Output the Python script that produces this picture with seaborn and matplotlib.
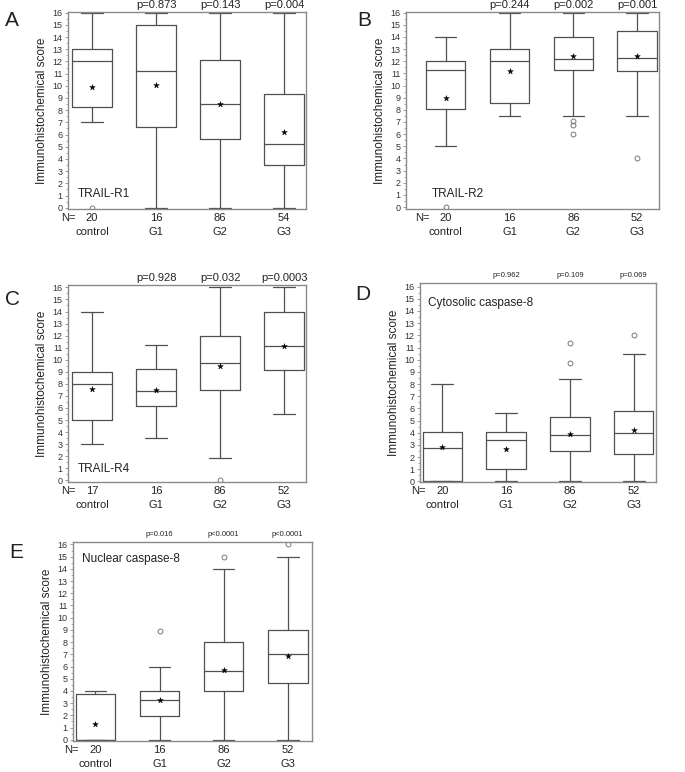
import matplotlib
matplotlib.use("Agg")
import matplotlib.pyplot as plt
import seaborn as sns
from matplotlib.ticker import MultipleLocator

sns.set_style("white")
plt.rcParams['font.family'] = ['Liberation Sans', 'DejaVu Sans']

groups = ['control', 'G1', 'G2', 'G3']

# A - TRAIL-R1
r1_n = [20, 16, 86, 54]
r1_p = ['', 'p=0.873', 'p=0.143', 'p=0.004']
r1_lo = [7, 0, 0, 0]
r1_q1 = [8.25, 6.6, 5.65, 3.5]
r1_med = [12, 11.2, 8.5, 5.25]
r1_q3 = [13, 15, 12.1, 9.35]
r1_hi = [16, 16, 16, 16]
r1_mean = [9.9, 10.05, 8.5, 6.25]
r1_out = [[0], [], [], []]

# B - TRAIL-R2
r2_n = [20, 16, 86, 52]
r2_p = ['', 'p=0.244', 'p=0.002', 'p=0.001']
r2_lo = [5, 7.5, 7.5, 7.5]
r2_q1 = [8.05, 8.6, 11.25, 11.2]
r2_med = [11.25, 12, 12.15, 12.25]
r2_q3 = [12, 13, 14, 14.5]
r2_hi = [14, 16, 16, 16]
r2_mean = [9.0, 11.2, 12.45, 12.4]
r2_out = [[0], [], [7.05, 6.75, 6.0], [4.0]]

# C - TRAIL-R4
r4_n = [17, 16, 86, 52]
r4_p = ['', 'p=0.928', 'p=0.032', 'p=0.0003']
r4_lo = [3, 3.5, 1.85, 5.5]
r4_q1 = [5, 6.2, 7.5, 9.15]
r4_med = [8, 7.4, 9.7, 11.1]
r4_q3 = [9, 9.2, 12, 14]
r4_hi = [14, 11.25, 16, 16]
r4_mean = [7.6, 7.45, 9.5, 11.15]
r4_out = [[], [], [0], []]

# D - cytosolic caspase-8
cc_n = [20, 16, 86, 52]
cc_p = ['', 'p=0.962', 'p=0.109', 'p=0.069']
cc_lo = [0, 0, 0, 0]
cc_q1 = [0, 1.0, 2.5, 2.28]
cc_med = [2.75, 3.4, 3.78, 4.0]
cc_q3 = [4.04, 4.05, 5.25, 5.75]
cc_hi = [8, 5.65, 8.4, 10.5]
cc_mean = [2.83, 2.7, 3.93, 4.26]
cc_out = [[], [], [9.7, 11.4], [12.0]]

# E - nuclear caspase-8
nc_n = [20, 16, 86, 52]
nc_p = ['', 'p=0.016', 'p<0.0001', 'p<0.0001']
nc_lo = [0, 0, 0, 0]
nc_q1 = [0, 1.95, 4, 4.68]
nc_med = [0, 3.23, 5.64, 7.0]
nc_q3 = [3.75, 4.0, 8.0, 9.0]
nc_hi = [4.0, 6.0, 14.0, 15.0]
nc_mean = [1.32, 3.23, 5.75, 6.9]
nc_out = [[], [8.93], [15.0], [16.0]]

W, H = 685, 772
fig = plt.figure(figsize=(W / 100, H / 100), dpi=100)

box_c = '#505050'
frame_c = '#8a8a8a'


def panel(rect, n, pv, lo, q1, med, q3, hi, mean, out, name, name_xy, name_va,
          xlim, ylim, pfs, letter, letter_xy):
    l, t, r, b = rect
    ax = fig.add_axes([l / W, 1 - b / H, (r - l) / W, (b - t) / H])
    stats = []
    for i in range(len(groups)):
        stats.append(dict(whislo=lo[i], q1=q1[i], med=med[i], q3=q3[i],
                          whishi=hi[i], fliers=out[i]))
    pos = list(range(len(groups)))
    lp = dict(color=box_c, linewidth=0.9)
    ax.bxp(stats, positions=pos, widths=0.62, capwidths=0.34,
           boxprops=lp, whiskerprops=lp, capprops=lp,
           medianprops=dict(color=box_c, linewidth=0.9),
           flierprops=dict(marker='o', markerfacecolor='none',
                           markeredgecolor='#777777', markersize=3.5,
                           markeredgewidth=0.7))
    sns.scatterplot(x=pos, y=mean, marker='*', color='black', s=18,
                    edgecolor='black', linewidth=0.3, ax=ax, zorder=5)
    ax.set_xlim(*xlim)
    ax.set_ylim(*ylim)
    ax.set_xticks([])
    ax.yaxis.set_major_locator(MultipleLocator(1))
    ax.yaxis.set_minor_locator(MultipleLocator(0.5))
    ax.tick_params(axis='y', which='major', direction='out', length=2.5,
                   width=0.6, color=frame_c, labelsize=6.5, labelcolor='#333333',
                   pad=1.5, left=True)
    ax.tick_params(axis='y', which='minor', direction='out', length=1.5,
                   width=0.5, color=frame_c, left=True)
    for s in ax.spines.values():
        s.set_color(frame_c)
        s.set_linewidth(1.0)
    ax.set_ylabel('Immunohistochemical score', fontsize=8.5, labelpad=3,
                  color='#222222')
    trans = ax.get_xaxis_transform()
    for i in pos:
        ax.text(i, -0.045, str(n[i]), transform=trans, ha='center', va='center',
                fontsize=8, color='#222222')
        ax.text(i, -0.115, groups[i], transform=trans, ha='center', va='center',
                fontsize=8, color='#222222')
        if pv[i]:
            ax.text(i, 1.038, pv[i], transform=trans, ha='center', va='center',
                    fontsize=pfs, color='#222222')
    ax.text(-0.37, -0.045, 'N=', transform=trans, ha='center', va='center',
            fontsize=8, color='#222222')
    ax.text(name_xy[0], name_xy[1], name, transform=ax.transAxes, ha='left',
            va=name_va, fontsize=8.5, color='#222222')
    fig.text(letter_xy[0] / W, 1 - letter_xy[1] / H, letter, fontsize=15,
             ha='left', va='center', color='#222222')
    return ax


panel((68, 12, 306, 209), r1_n, r1_p, r1_lo, r1_q1, r1_med, r1_q3, r1_hi,
      r1_mean, r1_out, 'TRAIL-R1', (0.042, 0.046), 'bottom',
      (-0.375, 3.34), (-0.1, 16.05), 8, 'A', (5, 21))
panel((406, 12, 659, 209), r2_n, r2_p, r2_lo, r2_q1, r2_med, r2_q3, r2_hi,
      r2_mean, r2_out, 'TRAIL-R2', (0.10, 0.046), 'bottom',
      (-0.62, 3.34), (-0.16, 16.05), 8, 'B', (357, 20))
panel((68, 285, 306, 482), r4_n, r4_p, r4_lo, r4_q1, r4_med, r4_q3, r4_hi,
      r4_mean, r4_out, 'TRAIL-R4', (0.042, 0.036), 'bottom',
      (-0.375, 3.34), (-0.14, 16.2), 8, 'C', (5, 299))
panel((420, 283, 656, 482), cc_n, cc_p, cc_lo, cc_q1, cc_med, cc_q3, cc_hi,
      cc_mean, cc_out, 'Cytosolic caspase-8', (0.034, 0.93), 'top',
      (-0.35, 3.35), (-0.05, 16.3), 5.5, 'D', (355, 295))
panel((73, 542, 312, 741), nc_n, nc_p, nc_lo, nc_q1, nc_med, nc_q3, nc_hi,
      nc_mean, nc_out, 'Nuclear caspase-8', (0.038, 0.945), 'top',
      (-0.35, 3.38), (-0.1, 16.2), 5.5, 'E', (9, 553))

fig.savefig('out.png', dpi=100, facecolor='white')
